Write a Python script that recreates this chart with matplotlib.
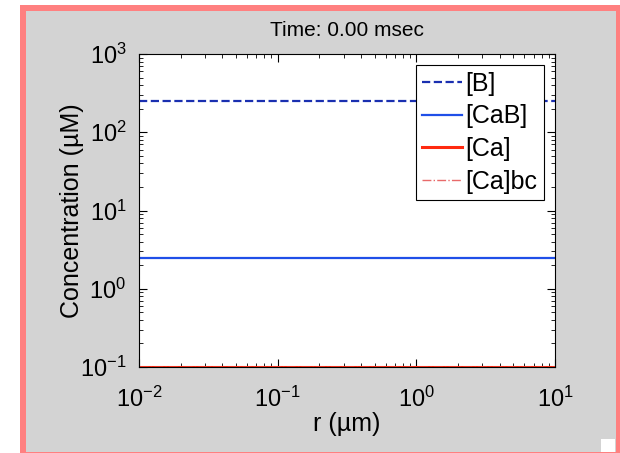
import matplotlib
matplotlib.use("Agg")
import matplotlib.pyplot as plt
from matplotlib.patches import Rectangle

plt.rcParams["font.family"] = ["Liberation Sans", "DejaVu Sans"]
plt.rcParams["mathtext.fontset"] = "custom"
plt.rcParams["mathtext.rm"] = "Liberation Sans"
plt.rcParams["mathtext.it"] = "Liberation Sans:italic"
plt.rcParams["axes.unicode_minus"] = False

# data (profiles at t = 0, flat across r)
r_um = [0.01, 0.1, 1.0, 10.0]
B = [250, 250, 250, 250]
CaB = [2.5, 2.5, 2.5, 2.5]
Ca = [0.1, 0.1, 0.1, 0.1]
Ca_bc = [0.1, 0.1, 0.1, 0.1]
title_txt = "Time: 0.00 msec"

W, H = 620, 453
fig = plt.figure(figsize=(W / 100, H / 100), dpi=100, facecolor="white")

# window frame: pink border, gray panel
fig.patches.append(Rectangle((20 / W, 0), 1 - 20 / W, 1 - 5 / H, transform=fig.transFigure,
                             facecolor="#ff8080", edgecolor="none", zorder=-3))
fig.patches.append(Rectangle((26 / W, 1 / H), (616 - 26) / W, (451 - 11) / H + 1 / H,
                             transform=fig.transFigure, facecolor="#d3d3d3",
                             edgecolor="none", zorder=-2))
fig.patches.append(Rectangle((601 / W, 1 / H), 14 / W, 13 / H, transform=fig.transFigure,
                             facecolor="white", edgecolor="none", zorder=-1))

ax = fig.add_axes([139 / W, 1 - 367 / H, (555 - 139) / W, (367 - 54) / H])
ax.set_facecolor("white")

ax.plot(r_um, B, "--", color="#1a2fb0", lw=1.6, label="[B]")
ax.plot(r_um, CaB, "-", color="#1f4fe8", lw=1.6, label="[CaB]")
ax.plot(r_um, Ca, "-", color="#ff2a10", lw=2.2, label="[Ca]")
ax.plot(r_um, Ca_bc, "-.", color="#e86a6a", lw=1.0, label="[Ca]bc")

ax.set_xscale("log")
ax.set_yscale("log")
ax.set_xlim(0.01, 10)
ax.set_ylim(0.1, 1000)

ax.tick_params(which="both", direction="in", top=True, right=True, labelsize=17)
ax.tick_params(axis="x", pad=14)
ax.tick_params(axis="y", pad=9)
ax.tick_params(which="major", length=6, width=0.8)
ax.tick_params(which="minor", length=3, width=0.6)
for s in ax.spines.values():
    s.set_linewidth(0.8)

ax.set_xlabel("r (\u00b5m)", fontsize=18, labelpad=0)
ax.set_ylabel("Concentration (\u00b5M)", fontsize=18, labelpad=-3)
ax.set_title(title_txt, fontsize=15, pad=13)

leg = ax.legend(loc="upper right", fontsize=18, frameon=True, fancybox=False,
                edgecolor="black", framealpha=1, borderaxespad=0.45,
                handlelength=1.6, handletextpad=0.15, labelspacing=0.35,
                borderpad=0.25)
leg.get_frame().set_linewidth(0.8)

fig.savefig("out.png", dpi=100, facecolor="white")
